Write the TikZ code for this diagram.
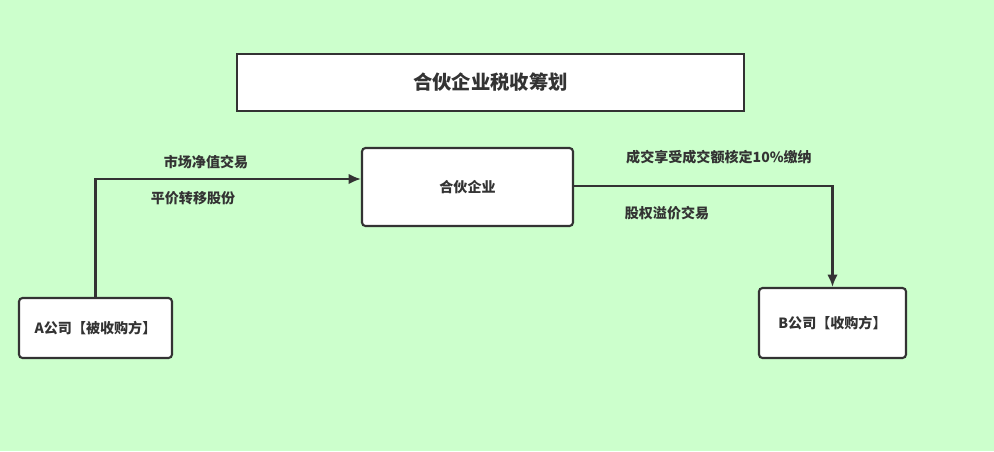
\documentclass[tikz,border=0pt]{standalone}
\usepackage{fontspec}
\setmainfont{Noto Sans CJK SC}
\usetikzlibrary{positioning,arrows.meta}
\definecolor{bgGreen}{HTML}{CCFFCC}
\definecolor{lineGray}{HTML}{333333}
\tikzset{
  box/.style={draw=lineGray, line width=1.2pt, fill=white, rounded corners=2pt, font=\fontsize{8}{10}\selectfont\bfseries, text=lineGray},
  lbl/.style={font=\fontsize{8}{10}\selectfont\bfseries, text=lineGray},
  conn/.style={draw=lineGray, line width=1.2pt, -{Latex[length=7pt,width=6pt]}}
}
\begin{document}
\begin{tikzpicture}[x=0.02cm, y=-0.02cm]
    % Background
    \fill[bgGreen] (0,0) rectangle (994,451);
    \useasboundingbox (0,0) rectangle (994,451);

    % Boxes
    \node[box, rounded corners=0pt, minimum width=507*0.02cm, minimum height=57*0.02cm, font=\fontsize{11}{13}\selectfont\bfseries] (title) at (490.5,82.5) {合伙企业税收筹划};
    \node[box, minimum width=211*0.02cm, minimum height=78*0.02cm] (firm) at (467.5,187) {合伙企业};
    \node[box, minimum width=153*0.02cm, minimum height=60*0.02cm] (compA) at (95.5,328) {A公司【被收购方】};
    \node[box, minimum width=147*0.02cm, minimum height=70*0.02cm] (compB) at (832.5,323) {B公司【收购方】};

    % Connectors
    \draw[conn] (compA.north) |- ([yshift=0.16cm]firm.west);
    \draw[conn] ([yshift=0.02cm]firm.east) -| (compB.north);

    % Labels
    \node[lbl] (lblA1) at (206,162) {市场净值交易};
    \node[lbl] (lblA2) at (193,198) {平价转移股份};
    \node[lbl] (lblB1) at (719,157) {成交享受成交额核定10\%缴纳};
    \node[lbl] (lblB2) at (667,213) {股权溢价交易};
\end{tikzpicture}
\end{document}
